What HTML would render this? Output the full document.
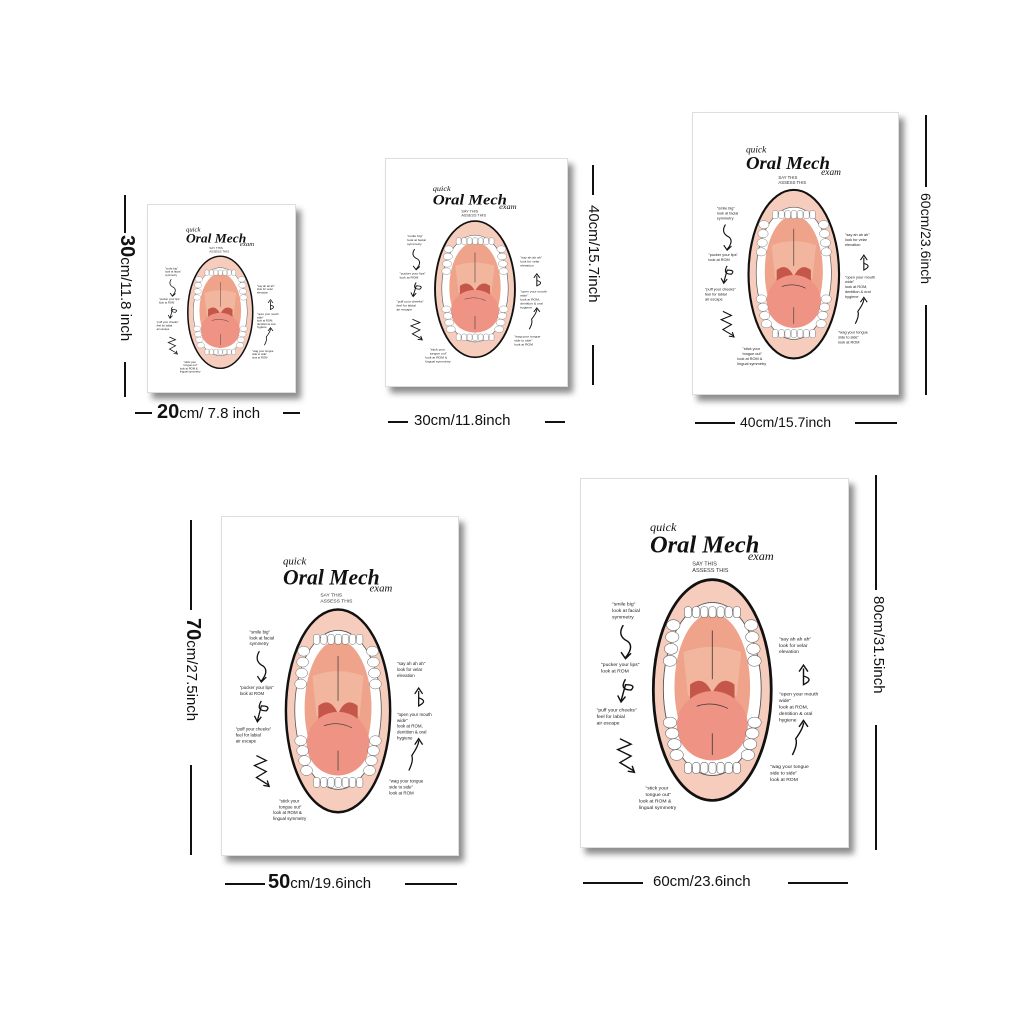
<!DOCTYPE html>
<html><head><meta charset="utf-8">
<style>
html,body{margin:0;padding:0;background:#fff;}
body{width:1024px;height:1024px;position:relative;overflow:hidden;font-family:"Liberation Sans",sans-serif;}
.poster{position:absolute;background:#fff;box-shadow:5px 6px 6px rgba(0,0,0,0.45);border:1px solid #ddd;box-sizing:border-box;}
.poster svg{width:100%;height:100%;display:block;}
.hl{position:absolute;height:2px;background:#111;}
.vl{position:absolute;width:2px;background:#111;}
.lab{position:absolute;white-space:nowrap;color:#111;font-size:15px;line-height:18px;}
.lab b{font-size:20px;}
.rot{transform-origin:0 0;transform:rotate(90deg);}
</style></head><body>

<div class="poster" id="p1" style="left:147px;top:204px;width:149px;height:189px"></div>
<div class="poster" id="p2" style="left:385px;top:158px;width:183px;height:229px"></div>
<div class="poster" id="p3" style="left:692px;top:112px;width:207px;height:283px"></div>
<div class="poster" id="p4" style="left:221px;top:516px;width:238px;height:340px"></div>
<div class="poster" id="p5" style="left:580px;top:478px;width:269px;height:370px"></div>

<div class="vl" style="left:124px;top:195px;height:38px"></div>
<div class="vl" style="left:124px;top:362px;height:35px"></div>
<div class="lab rot" style="left:136px;top:235px"><b>30</b>cm/11.8 inch</div>
<div class="hl" style="left:135px;top:412px;width:17px"></div>
<div class="hl" style="left:283px;top:412px;width:17px"></div>
<div class="lab" style="left:157px;top:403px"><b>20</b>cm/ 7.8 inch</div>

<div class="vl" style="left:592px;top:165px;height:30px"></div>
<div class="vl" style="left:592px;top:345px;height:40px"></div>
<div class="lab rot" style="left:602px;top:205px">40cm/15.7inch</div>
<div class="hl" style="left:388px;top:421px;width:20px"></div>
<div class="hl" style="left:545px;top:421px;width:20px"></div>
<div class="lab" style="left:414px;top:412px">30cm/11.8inch</div>

<div class="vl" style="left:925px;top:115px;height:72px"></div>
<div class="vl" style="left:925px;top:305px;height:90px"></div>
<div class="lab rot" style="left:935px;top:193px;font-size:14px">60cm/23.6inch</div>
<div class="hl" style="left:695px;top:422px;width:40px"></div>
<div class="hl" style="left:855px;top:422px;width:42px"></div>
<div class="lab" style="left:740px;top:413px;font-size:14px">40cm/15.7inch</div>

<div class="vl" style="left:190px;top:520px;height:90px"></div>
<div class="vl" style="left:190px;top:765px;height:90px"></div>
<div class="lab rot" style="left:202px;top:618px"><b>70</b>cm/27.5inch</div>
<div class="hl" style="left:225px;top:883px;width:40px"></div>
<div class="hl" style="left:405px;top:883px;width:52px"></div>
<div class="lab" style="left:268px;top:873px"><b>50</b>cm/19.6inch</div>

<div class="vl" style="left:875px;top:475px;height:115px"></div>
<div class="vl" style="left:875px;top:725px;height:125px"></div>
<div class="lab rot" style="left:887px;top:596px">80cm/31.5inch</div>
<div class="hl" style="left:583px;top:882px;width:60px"></div>
<div class="hl" style="left:788px;top:882px;width:60px"></div>
<div class="lab" style="left:653px;top:873px">60cm/23.6inch</div>

<script>
var teeth='';
for(var i=0;i<7;i++){var x=96+i*7.3;teeth+='<rect x="'+(x-3)+'" y="118" width="6.5" height="10" rx="2.5" fill="#fff" stroke="#666" stroke-width="0.5"/>';teeth+='<rect x="'+(x-3)+'" y="262" width="6.5" height="10" rx="2.5" fill="#fff" stroke="#666" stroke-width="0.5"/>';}
for(var j=0;j<4;j++){var y=135+j*11;teeth+='<ellipse cx="'+(83-j*1)+'" cy="'+y+'" rx="6" ry="5" fill="#fff" stroke="#666" stroke-width="0.5"/><ellipse cx="'+(153+j*1)+'" cy="'+y+'" rx="6" ry="5" fill="#fff" stroke="#666" stroke-width="0.5"/>';var y2=225+j*10;teeth+='<ellipse cx="'+(80+j*2)+'" cy="'+y2+'" rx="6" ry="5" fill="#fff" stroke="#666" stroke-width="0.5"/><ellipse cx="'+(156-j*2)+'" cy="'+y2+'" rx="6" ry="5" fill="#fff" stroke="#666" stroke-width="0.5"/>';}
var tpl = '<svg viewBox="0 0 240 340" preserveAspectRatio="none" xmlns="http://www.w3.org/2000/svg">'+
'<text x="62" y="48" font-family="Liberation Serif,serif" font-style="italic" font-size="11" fill="#111">quick</text>'+
'<text x="62" y="68" font-family="Liberation Serif,serif" font-weight="bold" font-style="italic" font-size="22" fill="#111">Oral Mech</text>'+
'<text x="150" y="75" font-family="Liberation Serif,serif" font-style="italic" font-size="11" fill="#111">exam</text>'+
'<text x="100" y="80" font-size="5" fill="#333">SAY THIS</text><text x="100" y="86" font-size="5" fill="#333">ASSESS THIS</text>'+
'<ellipse cx="118" cy="195" rx="53" ry="102" fill="#f6cdbd" stroke="#111" stroke-width="2.5"/>'+
'<ellipse cx="118" cy="194" rx="44" ry="80" fill="#fff" stroke="#555" stroke-width="0.8"/>'+
'<ellipse cx="118" cy="192" rx="34" ry="68" fill="#eea38a"/>'+
'<path d="M92 160 Q118 150 144 160 L140 200 Q118 210 96 200Z" fill="#f2b59e"/>'+
'<path d="M98 190 Q110 180 118 198 Q126 180 138 190 L138 210 L98 210Z" fill="#c4574a"/>'+
'<ellipse cx="118" cy="228" rx="32" ry="32" fill="#ef9484"/>'+
teeth+
'<path d="M118 140 L118 185 M104 210 Q118 205 132 212 M118 235 L118 255" stroke="#333" stroke-width="0.7" fill="none"/>'+
'<g font-size="4.5" fill="#222">'+
'<text x="28" y="117">"smile big"</text><text x="28" y="123">look at facial</text><text x="28" y="129">symmetry</text>'+
'<text x="18" y="173">"pucker your lips"</text><text x="18" y="179">look at ROM</text>'+
'<text x="14" y="215">"puff your cheeks"</text><text x="14" y="221">feel for labial</text><text x="14" y="227">air escape</text>'+
'<text x="58" y="287">"stick your</text><text x="58" y="293">tongue out"</text><text x="52" y="299">look at ROM &amp;</text><text x="52" y="305">lingual symmetry</text>'+
'<text x="178" y="149">"say ah ah ah"</text><text x="178" y="155">look for velar</text><text x="178" y="161">elevation</text>'+
'<text x="178" y="200">"open your mouth</text><text x="178" y="206">wide"</text><text x="178" y="212">look at ROM,</text><text x="178" y="218">dentition &amp; oral</text><text x="178" y="224">hygiene</text>'+
'<text x="170" y="267">"wag your tongue</text><text x="170" y="273">side to side"</text><text x="170" y="279">look at ROM</text>'+
'</g>'+
'<g stroke="#111" stroke-width="1.3" fill="none">'+
'<path d="M38 135 Q32 145 42 150 Q48 155 40 165 M36 160 L40 166 L45 161"/>'+
'<path d="M40 185 Q34 195 45 195 Q50 190 40 190 L36 205 M33 200 L36 206 L40 201"/>'+
'<path d="M35 240 L45 245 L33 250 L45 256 L35 262 L48 270 M42 270 L48 271 L46 265"/>'+
'<path d="M200 175 L200 190 Q210 185 200 182 M196 178 L200 172 L204 178"/>'+
'<path d="M190 255 Q195 245 193 240 Q200 230 200 225 M196 229 L200 223 L204 229"/>'+
'</g></svg>';
['p1','p2','p3','p4','p5'].forEach(function(id){document.getElementById(id).innerHTML=tpl;});
</script>
</body></html>
